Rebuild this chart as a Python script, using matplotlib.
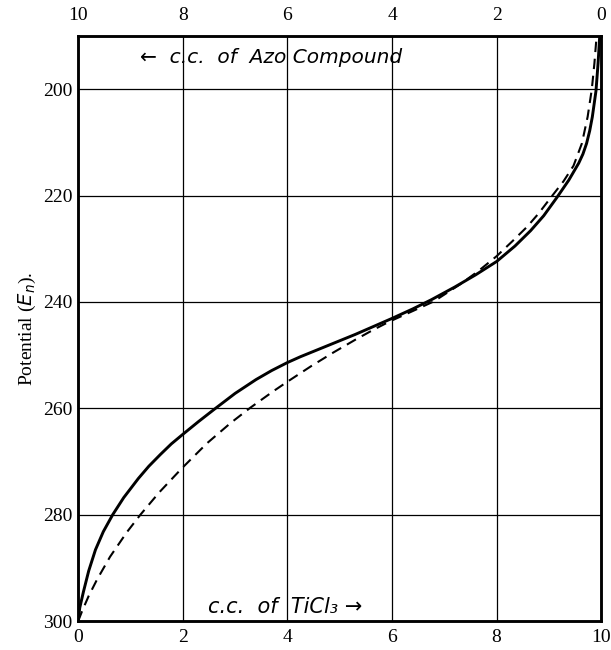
import matplotlib
matplotlib.use('Agg')
import matplotlib.pyplot as plt

# traced curves (cc of TiCl3, potential)
solid_x = [0, 0.03, 0.10, 0.20, 0.33, 0.48, 0.66, 0.87, 1.15, 1.35, 1.57, 1.78, 2.0, 2.30, 2.60,
           3.0, 3.4, 3.7, 4.0, 4.25, 4.5, 4.9, 5.3, 5.65, 6.0, 6.4, 6.75, 7.2, 7.6, 8.0, 8.35,
           8.65, 8.9, 9.15, 9.38, 9.57, 9.65, 9.72, 9.78, 9.83, 9.9, 9.94, 9.97]
solid_y = [300, 297.5, 294.5, 290.6, 286.6, 283.2, 280, 276.8, 273.2, 270.9, 268.7, 266.7, 264.9, 262.5, 260.2,
           257.2, 254.6, 252.9, 251.4, 250.3, 249.3, 247.7, 246.1, 244.6, 243.1, 241.3, 239.6, 237.2, 234.9, 232.4, 229.5,
           226.6, 223.8, 220.4, 217.1, 213.9, 212.2, 210.2, 207.8, 205.2, 200.3, 195.1, 190.2]

dashed_x = [0, 0.08, 0.2, 0.36, 0.61, 0.93, 1.19, 1.55, 1.98, 2.46, 2.91, 3.29, 3.73,
            4.0, 4.45, 4.88, 5.3, 5.65, 5.95, 6.4, 6.8, 7.3, 7.65, 8.0, 8.3, 8.58, 8.8,
            9.05, 9.28, 9.47, 9.63, 9.74, 9.82, 9.87, 9.91]
dashed_y = [300, 298, 295.3, 292.2, 287.9, 283.3, 280, 275.8, 271.3, 266.6, 262.8, 259.9, 256.8,
            255.0, 252.1, 249.5, 247.1, 245.2, 243.7, 241.7, 239.9, 236.7, 234.2, 231.4, 228.6, 225.9, 223.4,
            220.2, 217.3, 214.4, 210.2, 205.2, 200, 195.1, 190.2]

x_ticks = [0, 2, 4, 6, 8, 10]
top_labels = ['10', '8', '6', '4', '2', '0']
y_ticks = [200, 220, 240, 260, 280, 300]

serif = 'Liberation Serif'

fig = plt.figure(figsize=(6.11, 6.5), dpi=100)
ax = fig.add_axes([0.128, 0.0446, 0.856, 0.9])

for gx in x_ticks[1:-1]:
    ax.axvline(gx, color='k', lw=0.9, zorder=1)
for gy in y_ticks[:-1]:
    ax.axhline(gy, color='k', lw=0.9, zorder=1)

ax.plot(dashed_x, dashed_y, color='k', lw=1.5, dashes=(5, 3.2), zorder=3)
ax.plot(solid_x, solid_y, color='k', lw=2.1, solid_joinstyle='round',
        solid_capstyle='round', zorder=4)

ax.set_xlim(0, 10)
ax.set_ylim(300, 190)
ax.set_xticks(x_ticks)
ax.set_yticks(y_ticks)
ax.tick_params(axis='x', length=0, pad=6)
ax.tick_params(axis='y', length=0, pad=4)
for lab in ax.get_xticklabels() + ax.get_yticklabels():
    lab.set_fontfamily(serif)
    lab.set_fontsize(14)
for s in ax.spines.values():
    s.set_linewidth(1.8)

ax2 = ax.twiny()
ax2.set_xlim(0, 10)
ax2.set_xticks(x_ticks)
ax2.set_xticklabels(top_labels, fontfamily=serif, fontsize=14)
ax2.tick_params(length=0, pad=9)
for s in ax2.spines.values():
    s.set_linewidth(1.8)

ax.set_ylabel('Potential ($E_n$).', fontfamily=serif, fontsize=14, labelpad=4)

ax.text(1.19, 194.0, '\u2190  c.c.  of  Azo Compound', fontsize=14.5, style='italic',
        family='DejaVu Sans', va='center', ha='left')
ax.text(2.49, 297.3, 'c.c.  of  TiCl\u2083 \u2192', fontsize=15, style='italic',
        family='DejaVu Sans', va='center', ha='left')

fig.savefig('out.png', dpi=100)
